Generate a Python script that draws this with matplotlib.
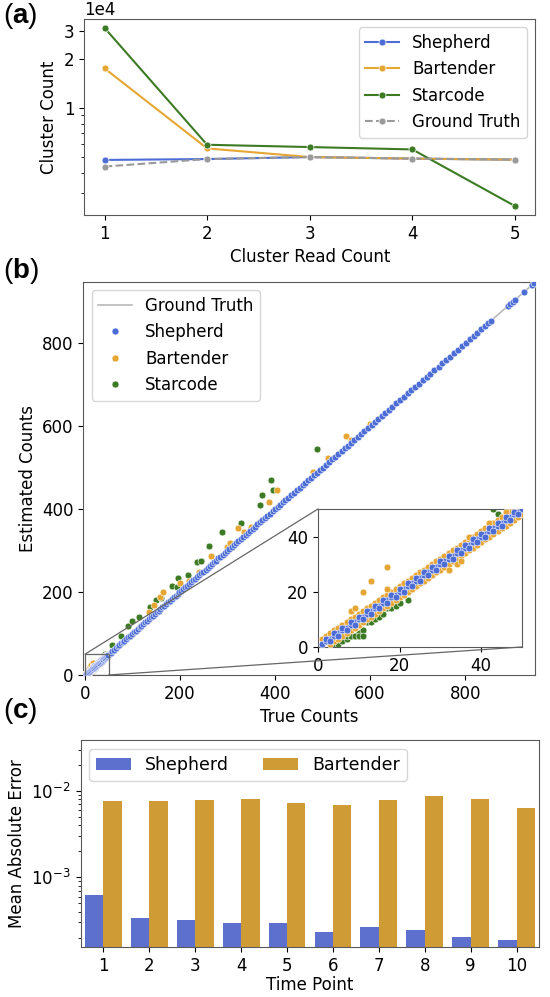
import numpy as np
import matplotlib
matplotlib.use("Agg")
import matplotlib.pyplot as plt
from matplotlib.ticker import ScalarFormatter, NullFormatter, FixedLocator
from matplotlib.lines import Line2D
from matplotlib.patches import Rectangle, ConnectionPatch

plt.rcParams['font.family'] = ['DejaVu Sans']
plt.rcParams['font.size'] = 12
plt.rcParams['axes.edgecolor'] = '0.35'
plt.rcParams['mathtext.fontset'] = 'custom'
plt.rcParams['mathtext.rm'] = 'Liberation Sans'
plt.rcParams['mathtext.bf'] = 'Liberation Sans:bold'

BLUE = '#4c6cd6'
ORANGE = '#e6a634'
GREEN = '#3c7b23'
GREY = '#9a9a9a'
BAR_BLUE = '#5d70cd'
BAR_GOLD = '#cf9b34'

# ---- (a) cluster counts per read count
read_count = [1, 2, 3, 4, 5]
shepherd_a = [4790, 4850, 4990, 4880, 4810]
bartender_a = [17560, 5640, 4990, 4880, 4810]
starcode_a = [31200, 5940, 5750, 5560, 2490]
truth_a = [4360, 4850, 4990, 4880, 4810]

# ---- (b) true vs estimated counts
# high range: shepherd sits on the diagonal
shep_hi_true = [54, 58, 61, 65, 69, 72, 76, 80, 83, 87, 91, 95, 99, 103, 107, 111,
                115, 119, 123, 127, 131, 135, 139, 143, 147, 151, 155, 159, 163, 167,
                171, 175, 179, 183, 187, 191, 195, 199, 203, 207, 211, 215, 219, 224,
                228, 232, 236, 241, 245, 249, 254, 258, 263, 267, 272, 276, 281, 285,
                290, 295, 299, 304, 309, 313, 318, 323, 328, 333, 338, 343, 348, 353,
                358, 363, 368, 373, 379, 384, 389, 395, 400, 406, 411, 417, 422, 428,
                434, 440, 446, 452, 458, 464, 470, 476, 482, 488, 494, 500, 507, 513,
                520, 526, 533, 540, 547, 553, 560, 567, 574, 581, 588, 595, 603, 610,
                617, 625, 632, 640, 647, 655, 663, 671, 679, 687, 695, 703, 711, 719,
                727, 735, 744, 752, 760, 768, 777, 785, 793, 801, 810, 818, 826, 834,
                842, 848, 855, 890, 895, 900, 905, 924, 940, 945]
shep_hi_est = list(shep_hi_true)

# low range (inset)
shep_lo_true = [1, 2, 3, 4, 5, 6, 7, 8, 9, 10, 11, 12, 13, 14, 15, 16, 17, 18, 19, 20,
                21, 22, 23, 24, 25, 26, 27, 28, 29, 30, 31, 32, 33, 34, 35, 36, 37, 38,
                39, 40, 41, 42, 43, 44, 45, 46, 47, 48, 49, 50,
                2, 4, 6, 8, 10, 12, 14, 16, 18, 20, 22, 24, 26, 28, 30, 32, 34, 36, 38,
                40, 42, 44, 46, 48,
                3, 5, 7, 9, 11, 13, 15, 17, 19, 21, 23, 25, 27, 29, 31, 33, 35, 37, 39,
                41, 43, 45, 47, 49]
shep_lo_est = [1, 2, 3, 4, 5, 6, 7, 8, 9, 10, 11, 12, 13, 14, 15, 16, 17, 18, 19, 20,
               21, 22, 23, 24, 25, 26, 27, 28, 29, 30, 31, 32, 33, 34, 35, 36, 37, 38,
               39, 40, 41, 42, 43, 44, 45, 46, 47, 48, 49, 50,
               3, 5, 7, 9, 11, 13, 15, 17, 19, 21, 23, 25, 27, 29, 31, 33, 35, 37, 39,
               41, 43, 45, 47, 49,
               2, 4, 6, 8, 10, 12, 14, 16, 18, 20, 22, 24, 26, 28, 30, 32, 34, 36, 38,
               40, 42, 44, 46, 48]

bart_true = [1, 2, 3, 4, 5, 6, 7, 8, 9, 10, 11, 12, 13, 14, 15, 16, 17, 18, 19, 20,
             21, 22, 23, 24, 25, 26, 27, 28, 29, 30, 31, 32, 33, 34, 35, 36, 37, 38,
             39, 40, 41, 42, 43, 44, 45, 46, 47, 48,
             3, 4, 5, 6, 7, 8, 9, 10, 11, 12, 13, 14, 15, 16, 17, 18, 19, 20, 21, 22,
             23, 24, 25, 26, 27, 28, 29, 30, 31, 32, 33, 34, 35, 36, 37, 38, 39, 40,
             41, 42, 43, 44, 45, 46, 47, 48, 49, 50,
             8, 9, 11, 13, 17, 17, 32, 34, 35, 37, 42, 46,
             135, 146, 157, 164, 201, 220, 240, 266, 300, 305, 323, 335, 350, 388,
             404, 480, 511, 550, 560, 600]
bart_est = [3, 4, 5, 6, 7, 8, 9, 10, 11, 12, 13, 14, 15, 16, 17, 18, 19, 20, 21, 22,
            23, 24, 25, 26, 27, 28, 29, 30, 31, 32, 33, 34, 35, 36, 37, 38, 39, 40,
            41, 42, 43, 44, 45, 46, 47, 48, 49, 50,
            1, 2, 3, 4, 5, 6, 7, 8, 9, 10, 11, 12, 13, 14, 15, 16, 17, 18, 19, 20,
            21, 22, 23, 24, 25, 26, 27, 28, 29, 30, 31, 32, 33, 34, 35, 36, 37, 38,
            39, 40, 41, 42, 43, 44, 45, 46, 47, 48,
            13, 14, 20, 24, 29, 21, 28, 30, 31, 40, 45, 49,
            153, 169, 189, 201, 222, 226, 248, 288, 309, 318, 355, 345, 356, 417,
            447, 489, 524, 576, 566, 606]

star_true = [3, 4, 5, 6, 7, 8, 9, 10, 11, 7, 8, 9, 10, 11, 12, 13, 14, 15, 16, 17,
             18, 19, 20, 22, 43, 44,
             58, 75, 90, 100, 113, 137, 150, 161, 183, 194, 196, 217, 235, 244, 261,
             288, 328, 369, 373, 391, 395, 488]
star_est = [0, 1, 1, 2, 3, 4, 4, 5, 6, 4, 4, 4, 4, 4, 9, 9, 10, 11, 12, 14,
            14, 15, 16, 17, 50, 48,
            72, 95, 118, 130, 141, 165, 181, 185, 214, 212, 234, 242, 272, 276, 310,
            346, 367, 411, 433, 470, 446, 546]

# ---- (c) mean absolute error per time point
time_points = ['1', '2', '3', '4', '5', '6', '7', '8', '9', '10']
shepherd_mae = [6.3e-4, 3.4e-4, 3.2e-4, 2.93e-4, 2.93e-4, 2.35e-4, 2.68e-4, 2.48e-4,
                2.02e-4, 1.88e-4]
bartender_mae = [0.00766, 0.00773, 0.0078, 0.0080, 0.00726, 0.00688, 0.0078, 0.00875,
                 0.0081, 0.00635]

fig = plt.figure(figsize=(5.5, 9.97), dpi=100)

# (a)
ax_a = fig.add_axes([0.1527, 0.7844, 0.8209, 0.1966])
line_kw = dict(marker='o', ms=5, mec='white', mew=0.5, lw=1.5)
ax_a.plot(read_count, shepherd_a, color=BLUE, label='Shepherd', **line_kw)
ax_a.plot(read_count, bartender_a, color=ORANGE, label='Bartender', **line_kw)
ax_a.plot(read_count, starcode_a, color=GREEN, label='Starcode', **line_kw)
ax_a.plot(read_count, truth_a, color=GREY, ls='--', label='Ground Truth', **line_kw)
ax_a.set_yscale('log')
ax_a.yaxis.set_major_locator(FixedLocator([1e4, 2e4, 3e4]))
fmt = ScalarFormatter()
fmt.set_powerlimits((0, 0))
ax_a.yaxis.set_major_formatter(fmt)
ax_a.yaxis.set_minor_formatter(NullFormatter())
ax_a.set_xticks(read_count)
ax_a.set_xlabel('Cluster Read Count')
ax_a.set_ylabel('Cluster Count')
ax_a.legend(loc='upper right', fontsize=12)

# (b)
ax_b = fig.add_axes([0.1518, 0.3230, 0.8218, 0.3942])
axins = fig.add_axes([0.5782, 0.3511, 0.3709, 0.1384])
sc_kw = dict(s=24, edgecolors='white', linewidths=0.4)
for ax in (ax_b, axins):
    ax.plot([0, 948], [0, 948], color='0.72', lw=1.2, zorder=1)
    ax.scatter(star_true, star_est, color=GREEN, zorder=2, **sc_kw)
    ax.scatter(bart_true, bart_est, color=ORANGE, zorder=3, **sc_kw)
    ax.scatter(shep_lo_true + shep_hi_true, shep_lo_est + shep_hi_est,
               color=BLUE, zorder=4, **sc_kw)
ax_b.set_xlim(-3, 948)
ax_b.set_ylim(0, 948)
ax_b.set_xticks([0, 200, 400, 600, 800])
ax_b.set_yticks([0, 200, 400, 600, 800])
ax_b.set_xlabel('True Counts')
ax_b.set_ylabel('Estimated Counts')
axins.set_xlim(0, 50)
axins.set_ylim(0, 50)
axins.set_xticks([0, 20, 40])
axins.set_yticks([0, 20, 40])

# zoom box and connector lines
ax_b.add_patch(Rectangle((0, 0), 50, 50, fill=False, ec='0.4', lw=0.9, zorder=5))
for corner in [(0, 50), (50, 0)]:
    con = ConnectionPatch(xyA=corner, coordsA=ax_b.transData,
                          xyB=corner, coordsB=axins.transData,
                          color='0.4', lw=0.9)
    fig.add_artist(con)

handles = [Line2D([], [], color='0.72', lw=1.2),
           Line2D([], [], ls='', marker='o', ms=5, mec='white', mew=0.4, color=BLUE),
           Line2D([], [], ls='', marker='o', ms=5, mec='white', mew=0.4, color=ORANGE),
           Line2D([], [], ls='', marker='o', ms=5, mec='white', mew=0.4, color=GREEN)]
ax_b.legend(handles, ['Ground Truth', 'Shepherd', 'Bartender', 'Starcode'],
            loc='upper left', fontsize=12)

# (c)
ax_c = fig.add_axes([0.1464, 0.0498, 0.8345, 0.2079])
x = np.arange(len(time_points))
ax_c.bar(x - 0.2, shepherd_mae, 0.4, color=BAR_BLUE, label='Shepherd')
ax_c.bar(x + 0.2, bartender_mae, 0.4, color=BAR_GOLD, label='Bartender')
ax_c.set_yscale('log')
ax_c.set_ylim(1.545e-4, 0.039)
ax_c.set_xlim(-0.5, 9.5)
ax_c.set_xticks(x)
ax_c.set_xticklabels(time_points)
ax_c.set_xlabel('Time Point', labelpad=1)
ax_c.set_ylabel('Mean Absolute Error')
ax_c.legend(loc='upper left', ncol=2, fontsize=12.5)

for lab, y in [('a', 0.984), ('b', 0.728), ('c', 0.287)]:
    fig.text(0.006, y, '($\\mathbf{%s}$)' % lab, fontsize=20,
             family='Liberation Sans', va='center', ha='left')

fig.savefig('out.png', dpi=100)
